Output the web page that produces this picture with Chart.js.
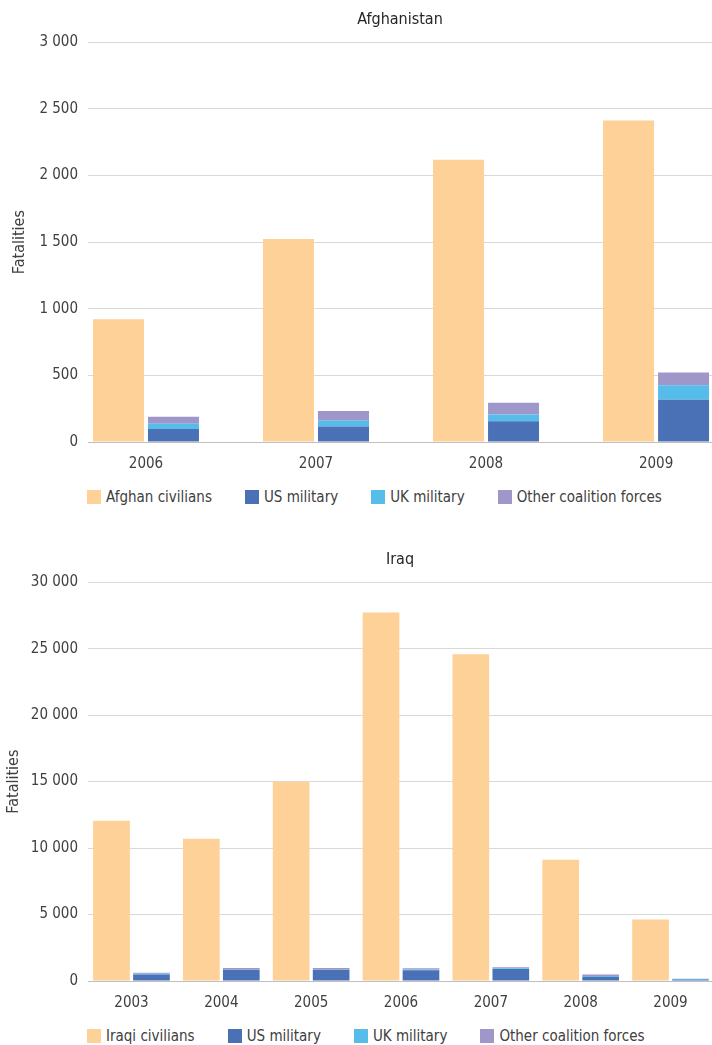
<!DOCTYPE html>
<html>
<head>
<meta charset="utf-8">
<script src="https://cdn.jsdelivr.net/npm/chart.js@4"></script>
<style>
body{margin:0;width:712px;height:1045px;overflow:hidden;background:#fff;position:relative}
.box{position:absolute;left:0;width:712px}
.legend{position:absolute;left:87px;display:flex;align-items:center;font-size:15px;line-height:20px;color:#404040;white-space:nowrap}
.legend span.item{display:flex;align-items:center;margin-right:33px}
.legend i{display:inline-block;width:14px;height:14px;margin-right:5px}
</style>
</head>
<body>
<div class="box" style="top:0"><canvas id="afg" width="712" height="470"></canvas></div>
<div class="legend" id="afgLegend" style="top:487px"></div>
<div class="box" style="top:540px"><canvas id="iraq" width="712" height="469"></canvas></div>
<div class="legend" id="iraqLegend" style="top:1026px"></div>
<script>
const FONT = '"Liberation Sans Narrow", "DejaVu Sans Condensed", Roboto, sans-serif'

// Afghanistan
const afgYears = ['2006','2007','2008','2009']
const afgCivilians = [922, 1523, 2118, 2412]
const afgUS = [98, 117, 155, 317]
const afgUK = [39, 42, 51, 108]
const afgOther = [52, 73, 89, 96]

// Iraq
const iraqYears = ['2003','2004','2005','2006','2007','2008','2009']
const iraqCivilians = [12050, 10700, 14980, 27730, 24580, 9130, 4630]
const iraqUS = [486, 849, 846, 800, 904, 314, 110]
const iraqUK = [53, 22, 23, 60, 47, 60, 50]
const iraqOther = [80, 100, 100, 100, 90, 120, 0]

const seriesNames = ['US military','UK military','Other coalition forces']
const colors = ['#fdd197','#4a71b5','#56bce9','#9f97ca']

Chart.defaults.font.family = FONT
Chart.defaults.font.size = 15
Chart.defaults.color = '#404040'

const fmt = v => String(v).replace(/\B(?=(\d{3})+(?!\d))/g, ' ')
const pts = arr => arr.map((v,i)=>({ x:i, y:v }))

function makeChart(id, title, years, civName, civ, us, uk, other, yMax, yStep, xMin, xMax, catPct, barPct, titlePadTop){
  const names = [civName].concat(seriesNames)
  const series = [civ, us, uk, other]
  const datasets = series.map((s,k)=>({
    label: names[k], data: pts(s), backgroundColor: colors[k],
    stack: k===0 ? 'civ' : 'mil', categoryPercentage: catPct, barPercentage: barPct
  }))
  new Chart(document.getElementById(id), {
    type: 'bar',
    data: { datasets },
    options: {
      responsive: false, animation: false,
      layout: { padding: 0 },
      plugins: {
        legend: { display: false }, tooltip: { enabled: false },
        title: { display: true, fullSize: false, text: title, color: '#262626', font: { size: 16, weight: 'normal' }, padding: { top: 10, bottom: 13 } }
      },
      scales: {
        x: {
          type: 'linear', min: xMin, max: xMax, stacked: true, offset: false,
          grid: { display: false, drawTicks: false },
          border: { color: '#bfbfbf' },
          ticks: { padding: 13, callback: v => years[v] },
          afterBuildTicks: s => { s.ticks = years.map((_,i)=>({ value: i })) },
          afterFit: s => { s.height = 28 }
        },
        y: {
          min: 0, max: yMax, stacked: true,
          grid: { color: '#d9d9d9', drawTicks: false },
          border: { display: false },
          ticks: { stepSize: yStep, padding: 10, callback: v => fmt(v) },
          title: { display: true, text: 'Fatalities', font: { size: 16 }, padding: { top: titlePadTop, bottom: 0 } },
          afterFit: s => { s.width = 88 }
        }
      }
    }
  })
  const leg = document.getElementById(id + 'Legend')
  leg.innerHTML = names.map((n,k)=>`<span class="item"><i style="background:${colors[k]}"></i>${n}</span>`).join('')
}

makeChart('afg', 'Afghanistan', afgYears, 'Afghan civilians', afgCivilians, afgUS, afgUK, afgOther, 3000, 500, -0.341, 3.329, 0.647, 0.927, 10)
makeChart('iraq', 'Iraq', iraqYears, 'Iraqi civilians', iraqCivilians, iraqUS, iraqUK, iraqOther, 30000, 5000, -0.484, 6.462, 0.89, 0.917, 4)
document.querySelectorAll('.legend').forEach(l=>l.style.fontFamily = FONT)
</script>
</body>
</html>
